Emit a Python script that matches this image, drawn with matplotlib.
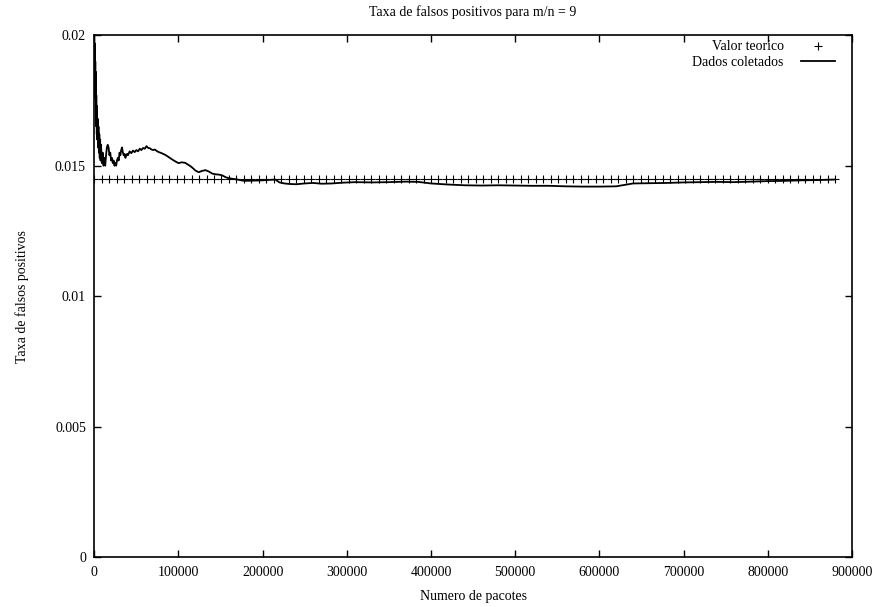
import numpy as np
import matplotlib
matplotlib.use("Agg")
import matplotlib.pyplot as plt
from matplotlib.ticker import FormatStrFormatter

plt.rcParams['font.family'] = ['Liberation Serif', 'DejaVu Serif']

# valor teorico (constante) amostrado como no gnuplot
teo_x = np.linspace(0, 880000, 100)
teo_val = 0.01448
teo_y = np.full(teo_x.shape, teo_val)

# dados coletados
pacotes = [0, 200, 400, 600, 800, 1000, 1200, 1400, 1600, 1800, 2000, 2200,
           2400, 2600, 2800, 3000, 3200, 3600, 4000, 4500,
           5000, 5500, 6000, 6500, 7000, 7500, 8000, 9000, 10000, 11000, 12000,
           13000, 14000, 15000, 16000, 17000, 18000, 19000, 20000, 21000, 22000,
           23000, 24000, 25000, 26000, 27000, 28000, 29000, 30000, 31000, 32000,
           33000, 34000, 35000, 36000, 37000, 38000, 39000, 40000, 42000, 44000,
           46000, 48000, 50000, 52000, 54000, 56000, 58000, 60000, 62000, 64000,
           66000, 68000, 70000, 72000, 74000, 76000, 80000, 84000, 88000, 92000,
           96000, 100000, 104000, 108000, 112000, 116000, 120000, 124000, 128000,
           132000, 136000, 140000, 144000, 148000, 152000, 156000, 160000, 164000,
           170000, 176000, 180000, 190000, 200000, 210000, 215000, 220000, 226000,
           232000, 240000, 250000, 260000, 270000, 282000, 295000, 310000, 330000,
           350000, 370000, 385000, 400000, 420000, 440000, 460000, 480000, 500000,
           520000, 540000, 560000, 580000, 600000, 620000, 640000, 660000, 680000,
           700000, 720000, 740000, 760000, 780000, 800000, 820000, 840000, 860000,
           880000]
taxa = [0.0200, 0.0188, 0.0197, 0.0184, 0.0194, 0.0180, 0.0190, 0.0176, 0.0186,
        0.0172, 0.0182, 0.0168, 0.0177, 0.0165, 0.0173, 0.0162, 0.0170,
        0.0160, 0.0168, 0.0157, 0.0165, 0.0155, 0.0162, 0.0153, 0.0160, 0.0152,
        0.0158, 0.0151, 0.0155, 0.0150, 0.0153, 0.0150, 0.0154, 0.0157, 0.0158,
        0.0157, 0.0154, 0.0155, 0.0152, 0.0153, 0.0151, 0.0152, 0.0150, 0.0151,
        0.0150, 0.0152, 0.0153, 0.0152, 0.0155, 0.0154, 0.0156, 0.0157, 0.0155,
        0.0154, 0.01545, 0.0153, 0.0154, 0.01545, 0.0154, 0.01555, 0.01548,
        0.01558, 0.01552, 0.0156, 0.01555, 0.01565, 0.0156, 0.01568, 0.01565,
        0.01575, 0.01568, 0.01567, 0.01562, 0.0156, 0.01562, 0.01557, 0.01553,
        0.01548, 0.01542, 0.01534, 0.01525, 0.01517, 0.0151, 0.01513, 0.01511,
        0.01503, 0.01494, 0.01482, 0.01475, 0.0148, 0.01483, 0.01478, 0.0147,
        0.01467, 0.01466, 0.01463, 0.01456, 0.01452, 0.0145, 0.01447, 0.01443,
        0.01442, 0.01443, 0.01444, 0.01446, 0.01447, 0.01436, 0.01432, 0.0143,
        0.01429, 0.01432, 0.01434, 0.01431, 0.01432, 0.01435, 0.01437, 0.01436,
        0.01437, 0.01439, 0.01438, 0.01432, 0.01428, 0.01425, 0.01424, 0.01425,
        0.01424, 0.01423, 0.01423, 0.01421, 0.0142, 0.0142, 0.01421, 0.01432,
        0.01433, 0.01434, 0.01436, 0.01437, 0.01438, 0.01437, 0.01439, 0.01441,
        0.01442, 0.01444, 0.01445, 0.01447]

fig = plt.figure(figsize=(8.81, 6.07), dpi=100)
ax = fig.add_axes([0.107, 0.082, 0.86, 0.860])

ax.plot(teo_x, teo_y, linestyle="none", marker="+", color="black",
        markersize=6, markeredgewidth=0.8, label="Valor teorico")
ax.plot(pacotes, taxa, color="black", linewidth=1.3, label="Dados coletados")

ax.set_xlim(0, 900000)
ax.set_ylim(0, 0.02)
ax.set_xticks(np.arange(0, 900001, 100000))
ax.set_yticks([0, 0.005, 0.01, 0.015, 0.02])
ax.xaxis.set_major_formatter(FormatStrFormatter('%d'))
ax.yaxis.set_major_formatter(FormatStrFormatter('%g'))
ax.tick_params(direction="in", length=5, width=1, top=True, right=True,
               labelsize=10, pad=6)
for s in ax.spines.values():
    s.set_linewidth(1.2)

ax.set_title("Taxa de falsos positivos para m/n = 9", fontsize=10, pad=14)
ax.set_xlabel("Numero de pacotes", fontsize=10, labelpad=8)
ax.set_ylabel("Taxa de falsos positivos", fontsize=10, labelpad=19)

ax.legend(loc="upper right", frameon=False, markerfirst=False, fontsize=10,
          handlelength=2.5, handletextpad=1.2, labelspacing=0.15,
          borderpad=0, borderaxespad=0, bbox_to_anchor=(0.978, 0.99))

plt.savefig("out.png", dpi=100)
